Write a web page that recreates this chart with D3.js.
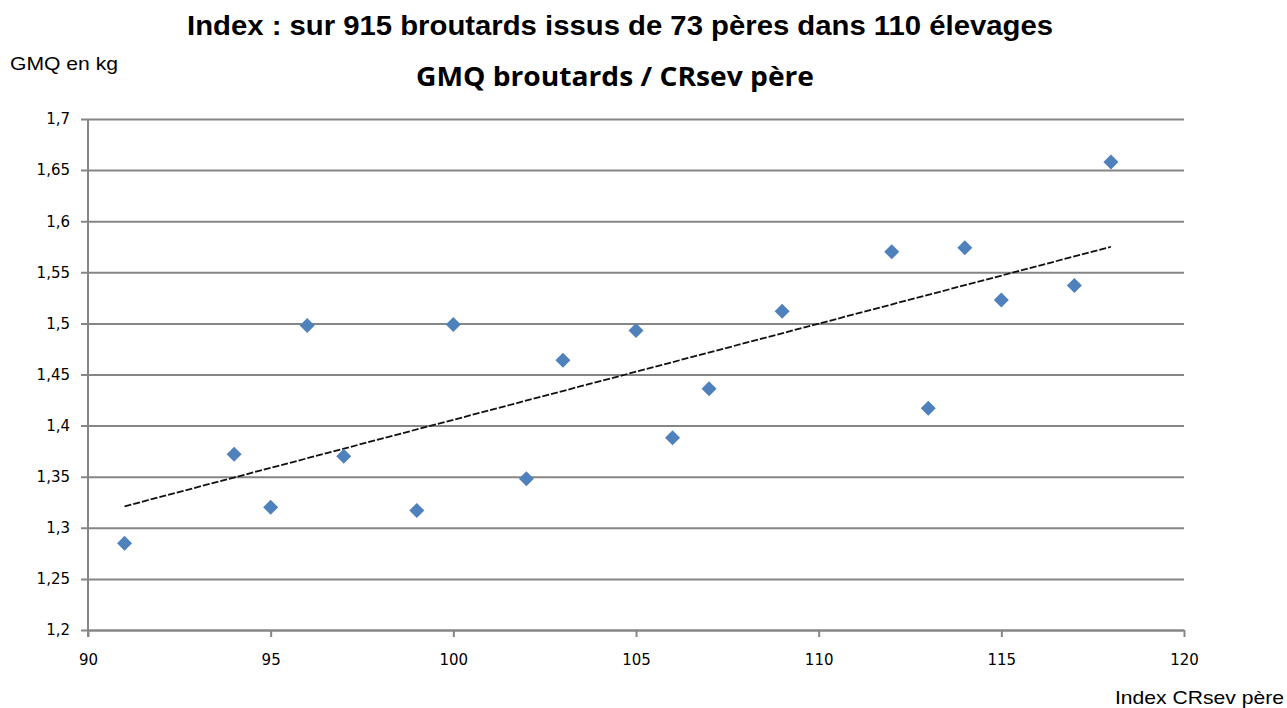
<!DOCTYPE html>
<html>
<head>
<meta charset="utf-8">
<script src="https://cdn.jsdelivr.net/npm/d3@7"></script>
<style>
  body { margin: 0; background: #fff; }
  svg text { fill: #000; }
</style>
</head>
<body>
<svg id="chart" width="1287" height="708"></svg>
<script>
// ============================================================
// DATA
// ============================================================
const indexCRsev = [91, 94, 95, 96, 97, 99, 100, 102, 103, 105, 106, 107, 109, 112, 113, 114, 115, 117, 118];
const gmq = [1.285, 1.372, 1.320, 1.498, 1.370, 1.317, 1.499, 1.348, 1.464, 1.493, 1.388, 1.436, 1.512, 1.570, 1.417, 1.574, 1.523, 1.537, 1.658];
// trend line end points
const trendX = [91, 118];
const trendY = [1.321, 1.575];
const xTicks = [90, 95, 100, 105, 110, 115, 120];
const yTicks = [1.2, 1.25, 1.3, 1.35, 1.4, 1.45, 1.5, 1.55, 1.6, 1.65, 1.7];

// ============================================================
// LAYOUT
// ============================================================
const svg = d3.select('#chart');
const plotLeft = 88, plotRight = 1184, plotTop = 119, plotBottom = 630;

const x = d3.scaleLinear().domain([90, 120]).range([plotLeft, plotRight]);
const y = d3.scaleLinear().domain([1.2, 1.7]).range([plotBottom, plotTop]);
const fmt = d => String(d).replace('.', ',');
const gridCol = '#868686';
const tickFont = '15px "DejaVu Sans", Tahoma, sans-serif';

// titles
svg.append('text')
  .attr('x', 620).attr('y', 35)
  .attr('text-anchor', 'middle')
  .style('font', 'bold 27px "Liberation Sans", Arial, sans-serif')
  .attr('textLength', 866).attr('lengthAdjust', 'spacingAndGlyphs')
  .text('Index : sur 915 broutards issus de 73 pères dans 110 élevages');

svg.append('text')
  .attr('x', 615).attr('y', 86)
  .attr('text-anchor', 'middle')
  .style('font', 'bold 27px "Open Sans", sans-serif')
  .attr('textLength', 398).attr('lengthAdjust', 'spacingAndGlyphs')
  .text('GMQ broutards / CRsev père');

svg.append('text')
  .attr('x', 10).attr('y', 70)
  .style('font', '19px "Liberation Sans", Arial, sans-serif')
  .attr('textLength', 108).attr('lengthAdjust', 'spacingAndGlyphs')
  .text('GMQ en kg');

svg.append('text')
  .attr('x', 1115).attr('y', 704)
  .style('font', '19px "Liberation Sans", Arial, sans-serif')
  .attr('textLength', 169).attr('lengthAdjust', 'spacingAndGlyphs')
  .text('Index CRsev père');

// ============================================================
// AXES
// ============================================================
const yAxis = svg.append('g')
  .attr('transform', `translate(${plotLeft},0)`)
  .call(d3.axisLeft(y).tickValues(yTicks).tickFormat(fmt)
    .tickSize(-(plotRight - plotLeft)).tickSizeOuter(0));
yAxis.select('.domain').remove();
yAxis.selectAll('.tick line')
  .attr('x1', -7)
  .attr('stroke', gridCol).attr('stroke-width', 2);
yAxis.selectAll('.tick text')
  .style('font', tickFont)
  .attr('x', -18);

const xAxis = svg.append('g')
  .attr('transform', `translate(0,${plotBottom})`)
  .call(d3.axisBottom(x).tickValues(xTicks).tickFormat(d => d)
    .tickSize(7).tickSizeOuter(0).tickPadding(17));
xAxis.select('.domain').attr('stroke', gridCol).attr('stroke-width', 2);
xAxis.selectAll('.tick line').attr('stroke', gridCol).attr('stroke-width', 2);
xAxis.selectAll('.tick text')
  .style('font', tickFont);

// vertical axis line
svg.append('line')
  .attr('x1', plotLeft).attr('x2', plotLeft)
  .attr('y1', plotTop).attr('y2', plotBottom + 7)
  .attr('stroke', gridCol).attr('stroke-width', 2);

// ============================================================
// TREND LINE + POINTS
// ============================================================
svg.append('line')
  .attr('x1', x(trendX[0])).attr('y1', y(trendY[0]))
  .attr('x2', x(trendX[1])).attr('y2', y(trendY[1]))
  .attr('stroke', '#111').attr('stroke-width', 1.8)
  .attr('stroke-dasharray', '7,2');

const pts = indexCRsev.map((v, i) => ({ x: v, y: gmq[i] }));
svg.append('g').selectAll('path')
  .data(pts)
  .join('path')
  .attr('transform', d => `translate(${x(d.x)},${y(d.y)})`)
  .attr('d', 'M0,-7.5L7.5,0L0,7.5L-7.5,0Z')
  .attr('fill', '#4f81bd');
</script>
</body>
</html>
